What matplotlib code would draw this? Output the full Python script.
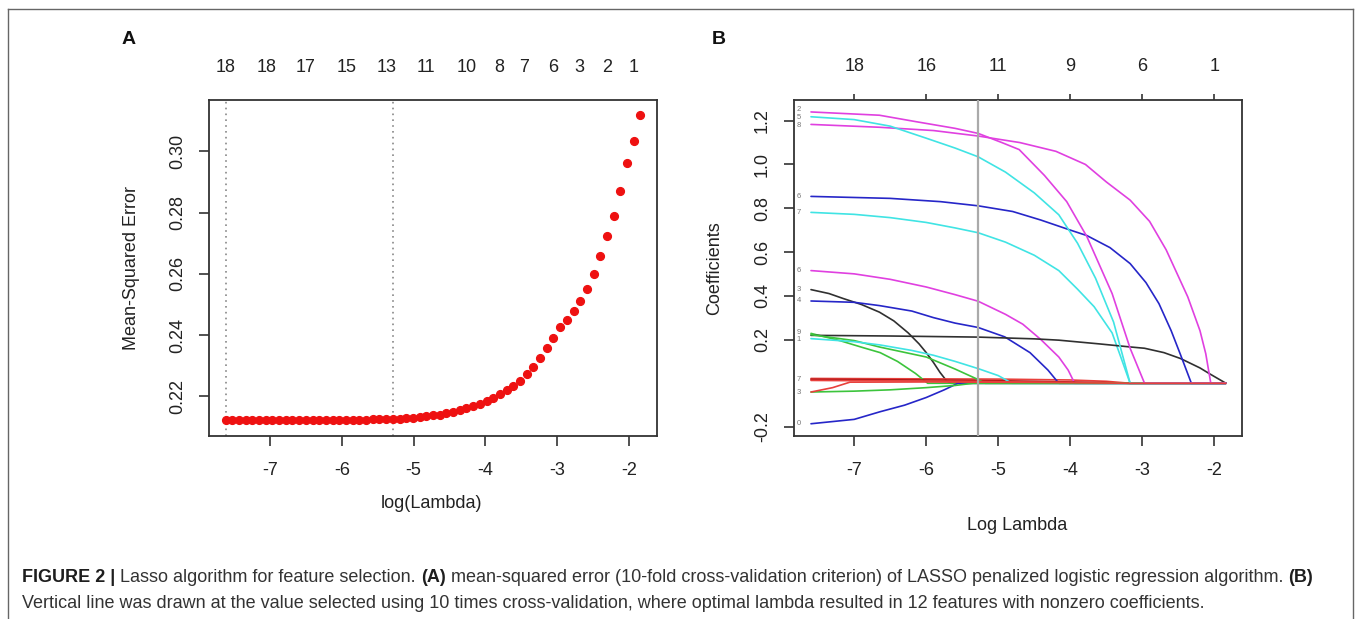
import matplotlib
matplotlib.use("Agg")
import matplotlib.pyplot as plt
from matplotlib.lines import Line2D
import logging
logging.getLogger('matplotlib.font_manager').setLevel(logging.ERROR)

W, H = 1357, 619
plt.rcParams['font.family'] = ['Liberation Sans', 'DejaVu Sans']

# ---------------- Panel A data ----------------
log_lambda_a = [-7.620, -7.527, -7.434, -7.340, -7.247, -7.154, -7.061, -6.967, -6.874, -6.781,
                -6.688, -6.594, -6.501, -6.408, -6.315, -6.222, -6.128, -6.035, -5.942, -5.849,
                -5.755, -5.662, -5.569, -5.476, -5.382, -5.289, -5.196, -5.103, -5.010, -4.916,
                -4.823, -4.730, -4.637, -4.543, -4.450, -4.357, -4.264, -4.170, -4.077, -3.984,
                -3.891, -3.798, -3.704, -3.611, -3.518, -3.425, -3.331, -3.238, -3.145, -3.052,
                -2.958, -2.865, -2.772, -2.679, -2.586, -2.492, -2.399, -2.306, -2.213, -2.119,
                -2.026, -1.933, -1.840]
mse = [0.2122, 0.2122, 0.2122, 0.2122, 0.2122, 0.2122, 0.2122, 0.2122, 0.2122, 0.2122,
       0.2123, 0.2123, 0.2123, 0.2123, 0.2123, 0.2123, 0.2123, 0.2123, 0.2124, 0.2124,
       0.2124, 0.2124, 0.2125, 0.2125, 0.2126, 0.2127, 0.2128, 0.2130, 0.2131, 0.2134,
       0.2136, 0.2138, 0.2141, 0.2146, 0.2150, 0.2155, 0.2162, 0.2168, 0.2176, 0.2186,
       0.2196, 0.2207, 0.2220, 0.2235, 0.2251, 0.2272, 0.2296, 0.2325, 0.2358, 0.2392,
       0.2426, 0.2450, 0.2478, 0.2512, 0.2552, 0.2600, 0.2658, 0.2723, 0.2790, 0.2871,
       0.2962, 0.3033, 0.3118]
vlines_a = [-7.620, -5.289]
top_pos_a = [-7.62, -7.05, -6.50, -5.93, -5.38, -4.83, -4.26, -3.81, -3.46, -3.06, -2.69, -2.31, -1.94]
top_lab_a = ["18", "18", "17", "15", "13", "11", "10", "8", "7", "6", "3", "2", "1"]
xticks_a = [-7, -6, -5, -4, -3, -2]
yticks_a = [0.22, 0.24, 0.26, 0.28, 0.30]

# ---------------- Panel B data (coefficient paths: (log lambda, coef)) ----------------
m1 = [(-7.60, 1.240), (-6.65, 1.225), (-6.15, 1.196), (-5.60, 1.165), (-5.28, 1.142), (-4.95, 1.100),
      (-4.71, 1.068), (-4.36, 0.950), (-4.05, 0.830), (-3.77, 0.670), (-3.42, 0.410), (-3.17, 0.160),
      (-2.97, 0.0), (-1.84, 0.0)]
c1 = [(-7.60, 1.218), (-7.00, 1.205), (-6.50, 1.175), (-6.00, 1.120), (-5.60, 1.075), (-5.28, 1.035),
      (-4.90, 0.965), (-4.50, 0.870), (-4.16, 0.770), (-3.90, 0.640), (-3.65, 0.480), (-3.40, 0.280),
      (-3.17, 0.0), (-1.84, 0.0)]
m2 = [(-7.60, 1.183), (-6.65, 1.170), (-5.90, 1.155), (-5.28, 1.130), (-4.70, 1.100), (-4.20, 1.060),
      (-3.79, 1.000), (-3.50, 0.920), (-3.17, 0.837), (-2.90, 0.740), (-2.67, 0.610), (-2.37, 0.395),
      (-2.20, 0.240), (-2.12, 0.135), (-2.05, 0.0), (-1.84, 0.0)]
b1 = [(-7.60, 0.854), (-6.50, 0.845), (-5.80, 0.830), (-5.28, 0.811), (-4.80, 0.785), (-4.41, 0.746),
      (-4.00, 0.700), (-3.77, 0.675), (-3.45, 0.620), (-3.17, 0.547), (-2.95, 0.460), (-2.77, 0.364),
      (-2.60, 0.240), (-2.47, 0.130), (-2.32, 0.0), (-1.84, 0.0)]
c2 = [(-7.60, 0.781), (-7.00, 0.772), (-6.50, 0.757), (-6.00, 0.735), (-5.60, 0.710), (-5.28, 0.688),
      (-4.90, 0.645), (-4.50, 0.585), (-4.16, 0.515), (-3.90, 0.430), (-3.67, 0.350), (-3.42, 0.230),
      (-3.30, 0.120), (-3.17, 0.0), (-1.84, 0.0)]
m3 = [(-7.60, 0.515), (-7.00, 0.500), (-6.50, 0.475), (-6.00, 0.440), (-5.60, 0.405), (-5.28, 0.375),
      (-4.90, 0.315), (-4.66, 0.270), (-4.41, 0.200), (-4.16, 0.120), (-4.03, 0.060), (-3.94, 0.0),
      (-1.84, 0.0)]
k1 = [(-7.60, 0.428), (-7.35, 0.410), (-7.15, 0.387), (-6.90, 0.360), (-6.65, 0.325), (-6.45, 0.285),
      (-6.25, 0.230), (-6.10, 0.180), (-6.00, 0.140), (-5.90, 0.095), (-5.81, 0.050), (-5.72, 0.012),
      (-5.66, 0.0), (-1.84, 0.0)]
b2 = [(-7.60, 0.376), (-7.00, 0.370), (-6.65, 0.355), (-6.20, 0.330), (-5.90, 0.300), (-5.60, 0.275),
      (-5.28, 0.255), (-4.91, 0.212), (-4.56, 0.140), (-4.31, 0.060), (-4.16, 0.0), (-1.84, 0.0)]
k2 = [(-7.60, 0.219), (-6.50, 0.216), (-5.28, 0.211), (-4.50, 0.203), (-4.16, 0.197), (-3.60, 0.180),
      (-3.17, 0.166), (-2.97, 0.160), (-2.70, 0.140), (-2.47, 0.113), (-2.20, 0.070), (-2.07, 0.044),
      (-1.84, 0.0)]
g1 = [(-7.60, 0.228), (-7.20, 0.195), (-6.90, 0.165), (-6.64, 0.140), (-6.40, 0.100), (-6.15, 0.045),
      (-5.98, 0.0), (-1.84, 0.0)]
g2 = [(-7.60, 0.222), (-7.00, 0.195), (-6.64, 0.165), (-6.00, 0.120), (-5.60, 0.065), (-5.30, 0.020),
      (-5.18, 0.0), (-1.84, 0.0)]
c3 = [(-7.60, 0.204), (-7.00, 0.190), (-6.64, 0.175), (-6.20, 0.150), (-5.90, 0.128), (-5.60, 0.100),
      (-5.28, 0.067), (-5.00, 0.035), (-4.81, 0.0), (-1.84, 0.0)]
r1 = [(-7.60, 0.022), (-5.00, 0.019), (-4.00, 0.015), (-3.50, 0.009), (-3.17, 0.0), (-1.84, 0.0)]
r2 = [(-7.60, 0.018), (-5.50, 0.014), (-4.50, 0.009), (-3.50, 0.003), (-3.17, 0.0), (-1.84, 0.0)]
r3 = [(-7.60, 0.013), (-5.50, 0.009), (-4.50, 0.005), (-3.50, 0.002), (-3.17, 0.0), (-1.84, 0.0)]
r4 = [(-7.60, -0.040), (-7.30, -0.020), (-7.06, 0.005), (-6.00, 0.006), (-4.50, 0.004), (-3.17, 0.0),
      (-1.84, 0.0)]
g3 = [(-7.60, -0.040), (-7.00, -0.036), (-6.50, -0.030), (-6.00, -0.020), (-5.60, -0.010), (-5.35, 0.0),
      (-1.84, 0.0)]
b3 = [(-7.60, -0.185), (-7.00, -0.165), (-6.64, -0.130), (-6.30, -0.100), (-6.00, -0.065), (-5.75, -0.030),
      (-5.56, 0.0), (-1.84, 0.0)]

# variable-index labels printed at the left end of the paths (as they appear, clipped)
left_labels = ["2", "5", "8", "6", "7", "6", "3", "4", "9", "1", "7", "3", "0"]
left_label_y = [1.250, 1.215, 1.180, 0.854, 0.781, 0.515, 0.428, 0.376, 0.230, 0.200, 0.018, -0.040, -0.185]

selected_log_lambda = -5.284
top_pos_b = [-7, -6, -5, -4, -3, -2]
top_lab_b = ["18", "16", "11", "9", "6", "1"]
xticks_b = [-7, -6, -5, -4, -3, -2]
yticks_b = [-0.2, 0.2, 0.4, 0.6, 0.8, 1.0, 1.2]

# colours (R default palette, slightly softened like the scan)
BLACK, RED, DRED, GREEN, BLUE, CYAN, MAG = "#303030", "#e8403c", "#b01818", "#3cc43c", "#2626c8", "#40e4e4", "#e040e0"
paths = [(k1, BLACK), (r1, RED), (g1, GREEN), (b2, BLUE), (c2, CYAN), (m3, MAG), (k2, BLACK),
         (r2, DRED), (g2, GREEN), (b3, BLUE), (c3, CYAN), (m2, MAG), (r3, RED), (g3, GREEN),
         (b1, BLUE), (c1, CYAN), (m1, MAG), (r4, RED)]

fig = plt.figure(figsize=(W / 100, H / 100), dpi=100)


def rect(l, r, t, b):
    return [l / W, 1 - b / H, (r - l) / W, (b - t) / H]


SPINE = "#333333"
TICK_FS = 13


def style_axes(ax):
    for s in ax.spines.values():
        s.set_color(SPINE)
        s.set_linewidth(1.3)
    ax.tick_params(axis='both', which='major', length=7.5, width=1.2, color=SPINE,
                   labelsize=TICK_FS, labelcolor="#222222")
    ax.tick_params(axis='x', pad=11)
    ax.tick_params(axis='y', pad=9)


# ---------------- Panel A ----------------
axA = fig.add_axes(rect(209, 657, 100, 436))
axA.plot(log_lambda_a, mse, 'o', color='#ee1111', ms=5.6, mec='#ee1111', zorder=3)
for v in vlines_a:
    axA.axvline(v, color='#888888', lw=1.2, ls=(0, (1, 2.5)), zorder=1)
axA.set_xlim(-7.851, -1.609)
axA.set_ylim(0.2071, 0.3167)
axA.set_xticks(xticks_a)
axA.set_xticklabels([str(t) for t in xticks_a])
axA.set_yticks(yticks_a)
axA.set_yticklabels(["%.2f" % t for t in yticks_a], rotation=90, va='center')
style_axes(axA)
topA = axA.twiny()
topA.set_xlim(axA.get_xlim())
topA.set_xticks(top_pos_a)
topA.set_xticklabels(top_lab_a)
topA.tick_params(axis='x', length=0, pad=17, labelsize=TICK_FS, labelcolor="#222222")
for s in topA.spines.values():
    s.set_visible(False)

# ---------------- Panel B ----------------
axB = fig.add_axes(rect(794, 1242, 100, 436))
for p, col in paths:
    xs = [q[0] for q in p]
    ys = [q[1] for q in p]
    axB.plot(xs, ys, color=col, lw=1.2, solid_capstyle='round', solid_joinstyle='round', zorder=2)
for lab, yv in zip(left_labels, left_label_y):
    axB.text(-7.80, yv, lab, fontsize=5.5, color="#777777", ha='left', va='center', zorder=4)
axB.axvline(selected_log_lambda, color='#aaaaaa', lw=1.6, zorder=3)
axB.set_xlim(-7.836, -1.617)
axB.set_ylim(-0.241, 1.2946)
axB.set_xticks(xticks_b)
axB.set_xticklabels([str(t) for t in xticks_b])
axB.set_yticks(yticks_b)
axB.set_yticklabels(["%.1f" % t for t in yticks_b], rotation=90, va='center')
style_axes(axB)
topB = axB.twiny()
topB.set_xlim(axB.get_xlim())
topB.set_xticks(top_pos_b)
topB.set_xticklabels(top_lab_b)
topB.tick_params(axis='x', length=4, width=1.2, color=SPINE, pad=14, labelsize=TICK_FS,
                 labelcolor="#222222")
for s in topB.spines.values():
    s.set_visible(False)

# ---------------- labels ----------------
def ftext(x, y, s, **kw):
    return fig.text(x / W, 1 - y / H, s, **kw)


ftext(129, 39, "A", fontsize=14, fontweight='bold', ha='center', va='center', color="#111111")
ftext(719, 39, "B", fontsize=14, fontweight='bold', ha='center', va='center', color="#111111")
ftext(131, 268, "Mean-Squared Error", fontsize=13, rotation=90, ha='center', va='center', color="#222222")
ftext(715, 268, "Coefficients", fontsize=13, rotation=90, ha='center', va='center', color="#222222")
ftext(431, 503, "log(Lambda)", fontsize=13, ha='center', va='center', color="#222222")
ftext(1017, 525, "Log Lambda", fontsize=13, ha='center', va='center', color="#222222")

# ---------------- frame ----------------
fc = "#666666"
fig.add_artist(Line2D([7.5 / W, 7.5 / W], [0, 1 - 8.5 / H], transform=fig.transFigure, color=fc, lw=1.0))
fig.add_artist(Line2D([7.5 / W, 1353 / W], [1 - 8.5 / H, 1 - 8.5 / H], transform=fig.transFigure, color=fc, lw=1.0))
fig.add_artist(Line2D([1353 / W, 1353 / W], [0, 1 - 8.5 / H], transform=fig.transFigure, color=fc, lw=1.0))

# ---------------- caption ----------------
line1 = [("FIGURE 2 |", 'bold'), (" Lasso algorithm for feature selection. ", 'normal'), ("(A)", 'bold'),
         (" mean-squared error (10-fold cross-validation criterion) of LASSO penalized logistic regression algorithm. ", 'normal'),
         ("(B)", 'bold')]
line2 = [("Vertical line was drawn at the value selected using 10 times cross-validation, where optimal lambda resulted in 12 features with nonzero coefficients.", 'normal')]

CAP_FAMILY = ['Liberation Sans Narrow', 'Liberation Sans', 'DejaVu Sans']
renderer = fig.canvas.get_renderer()


def measure(pieces, fs):
    tot = 0
    for s, w in pieces:
        t = fig.text(0, 0, s, fontsize=fs, fontweight=w, family=CAP_FAMILY)
        tot += t.get_window_extent(renderer).width
        t.remove()
    return tot


fs0 = 10.0
wd = measure(line1, fs0)
cap_fs = fs0 * 1292.0 / wd


def draw_line(pieces, y):
    x = 22.0
    for s, w in pieces:
        t = ftext(x, y, s, fontsize=cap_fs, fontweight=w, ha='left', va='center', family=CAP_FAMILY,
                  color="#1e1e1e" if w == 'bold' else "#333333")
        x += t.get_window_extent(renderer).width


draw_line(line1, 577)
draw_line(line2, 604)

fig.savefig("out.png", dpi=100)
